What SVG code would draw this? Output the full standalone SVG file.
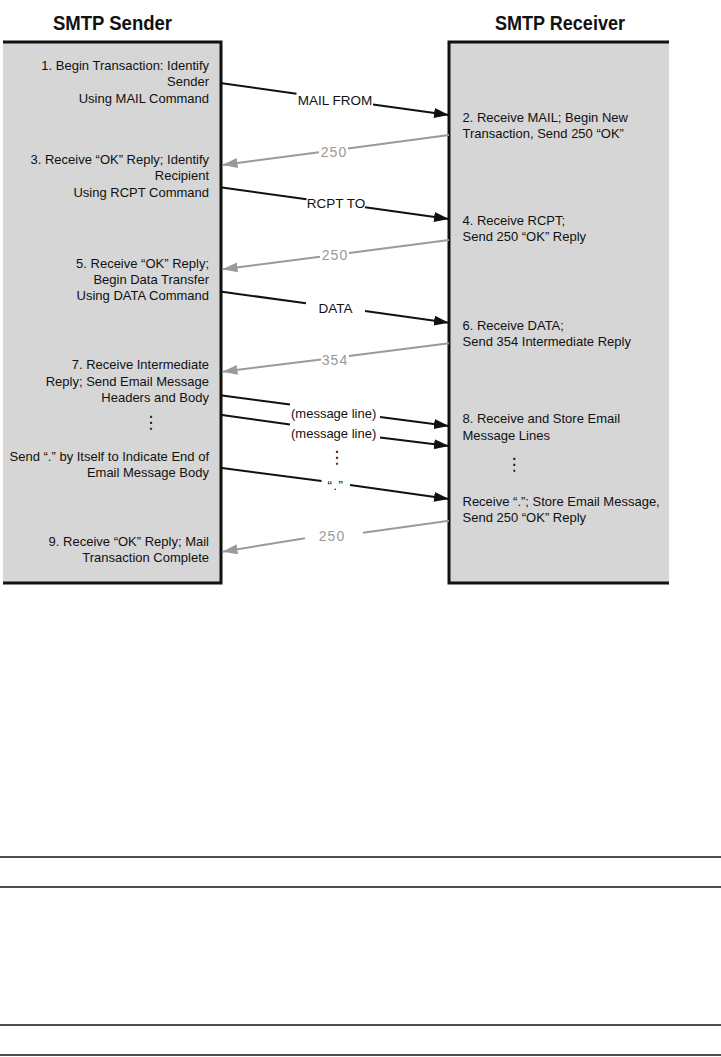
<svg xmlns="http://www.w3.org/2000/svg" width="721" height="1057" viewBox="0 0 721 1057">
<style>
.hdr{font-family:"Liberation Sans",Arial,sans-serif;font-size:20px;font-weight:bold;fill:#111;text-anchor:middle}
.t{font-family:"Liberation Sans",Arial,sans-serif;font-size:13px;fill:#111}
.l{text-anchor:end}
.lab{font-family:"Liberation Sans",Arial,sans-serif;font-size:13.5px;fill:#111;text-anchor:middle}
.glab{font-family:"Liberation Sans",Arial,sans-serif;font-size:14px;fill:#999;text-anchor:middle;letter-spacing:1px}
.dots{font-family:"DejaVu Sans",sans-serif;font-size:17px;fill:#111;text-anchor:middle}
.box{fill:#d6d6d6}
.bd{fill:none;stroke:#111;stroke-width:3}
.req{stroke:#111;stroke-width:2;fill:none}
.rep{stroke:#9a9a9a;stroke-width:2;fill:none}
.rule{stroke:#111;stroke-width:1.5}
</style>
<defs>
<marker id="ab" markerUnits="userSpaceOnUse" markerWidth="16" markerHeight="11" refX="15" refY="5" orient="auto"><path d="M0,0 L15,5 L0,10 z" fill="#111"/></marker>
<marker id="ag" markerUnits="userSpaceOnUse" markerWidth="16" markerHeight="11" refX="15" refY="5" orient="auto"><path d="M0,0 L15,5 L0,10 z" fill="#9a9a9a"/></marker>
</defs>
<rect width="721" height="1057" fill="#fff"/>

<g id="sender">
<text class="hdr" x="112.5" y="29.5" textLength="119" lengthAdjust="spacingAndGlyphs">SMTP Sender</text>
<rect class="box" x="3" y="42" width="218" height="541"/>
<polyline class="bd" points="3,42 221,42 221,583 3,583"/>
<text class="t l" x="209" y="69.5">1. Begin Transaction: Identify</text>
<text class="t l" x="209" y="86">Sender</text>
<text class="t l" x="209" y="102.5">Using MAIL Command</text>
<text class="t l" x="209" y="163.5">3. Receive “OK” Reply; Identify</text>
<text class="t l" x="209" y="180">Recipient</text>
<text class="t l" x="209" y="196.5">Using RCPT Command</text>
<text class="t l" x="209" y="268">5. Receive “OK” Reply;</text>
<text class="t l" x="209" y="284">Begin Data Transfer</text>
<text class="t l" x="209" y="300">Using DATA Command</text>
<text class="t l" x="209" y="369">7. Receive Intermediate</text>
<text class="t l" x="209" y="385.5">Reply; Send Email Message</text>
<text class="t l" x="209" y="402">Headers and Body</text>
<text class="dots" x="150.7" y="428">⋮</text>
<text class="t l" x="209" y="460.5">Send “.” by Itself to Indicate End of</text>
<text class="t l" x="209" y="476.5">Email Message Body</text>
<text class="t l" x="209" y="546">9. Receive “OK” Reply; Mail</text>
<text class="t l" x="209" y="562">Transaction Complete</text>
</g>

<g id="receiver">
<text class="hdr" x="560" y="29.5" textLength="130" lengthAdjust="spacingAndGlyphs">SMTP Receiver</text>
<rect class="box" x="449" y="42" width="220" height="541"/>
<polyline class="bd" points="669,42 449,42 449,583 669,583"/>
<text class="t" x="462.5" y="122">2. Receive MAIL; Begin New</text>
<text class="t" x="462.5" y="138">Transaction, Send 250 “OK”</text>
<text class="t" x="462.5" y="225">4. Receive RCPT;</text>
<text class="t" x="462.5" y="241">Send 250 “OK” Reply</text>
<text class="t" x="462.5" y="329.5">6. Receive DATA;</text>
<text class="t" x="462.5" y="346">Send 354 Intermediate Reply</text>
<text class="t" x="462.5" y="423">8. Receive and Store Email</text>
<text class="t" x="462.5" y="439.5">Message Lines</text>
<text class="dots" x="514" y="469.5">⋮</text>
<text class="t" x="462.5" y="506">Receive “.”; Store Email Message,</text>
<text class="t" x="462.5" y="522">Send 250 “OK” Reply</text>
</g>

<g id="connectors">
<line class="req" x1="222" y1="83.3" x2="296.5" y2="93.7"/>
<line class="req" x1="373" y1="104.4" x2="449" y2="115" marker-end="url(#ab)"/>
<text class="lab" x="335" y="104.5">MAIL FROM</text>

<line class="rep" x1="449" y1="135" x2="348" y2="148.5"/>
<line class="rep" x1="319" y1="152.2" x2="222.5" y2="165" marker-end="url(#ag)"/>
<text class="glab" x="334" y="156.5">250</text>

<line class="req" x1="222" y1="187.5" x2="306.5" y2="199.3"/>
<line class="req" x1="365" y1="207.3" x2="449" y2="219" marker-end="url(#ab)"/>
<text class="lab" x="336" y="208">RCPT TO</text>

<line class="rep" x1="449" y1="240" x2="349" y2="253"/>
<line class="rep" x1="320" y1="256.7" x2="222.5" y2="269.3" marker-end="url(#ag)"/>
<text class="glab" x="335" y="260">250</text>

<line class="req" x1="222" y1="291.7" x2="306" y2="303.3"/>
<line class="req" x1="365" y1="311" x2="449" y2="322.7" marker-end="url(#ab)"/>
<text class="lab" x="335.5" y="312.5">DATA</text>

<line class="rep" x1="449" y1="343.3" x2="349" y2="356"/>
<line class="rep" x1="321" y1="359.5" x2="222.5" y2="371.7" marker-end="url(#ag)"/>
<text class="glab" x="335" y="365">354</text>

<line class="req" x1="222" y1="395.5" x2="290" y2="404.5"/>
<line class="req" x1="380" y1="417" x2="449" y2="426" marker-end="url(#ab)"/>
<text class="t" x="291" y="417.5">(message line)</text>

<line class="req" x1="222" y1="415" x2="290" y2="424.5"/>
<line class="req" x1="380" y1="437.5" x2="449" y2="446" marker-end="url(#ab)"/>
<text class="t" x="291" y="437.5">(message line)</text>

<text class="dots" x="336.7" y="462.5">⋮</text>

<line class="req" x1="222" y1="468" x2="321.5" y2="481"/>
<line class="req" x1="350" y1="485" x2="449" y2="499" marker-end="url(#ab)"/>
<text class="lab" x="336" y="490" letter-spacing="1.5">“.”</text>

<line class="rep" x1="449" y1="520.7" x2="363" y2="532.7"/>
<line class="rep" x1="305" y1="538.3" x2="222.5" y2="551.7" marker-end="url(#ag)"/>
<text class="glab" x="332" y="540.5">250</text>
</g>

<g id="rules">
<line class="rule" x1="0" y1="857" x2="721" y2="857"/>
<line class="rule" x1="0" y1="887" x2="721" y2="887"/>
<line class="rule" x1="0" y1="1025" x2="721" y2="1025"/>
<line class="rule" x1="0" y1="1055" x2="721" y2="1055"/>
</g>
</svg>
